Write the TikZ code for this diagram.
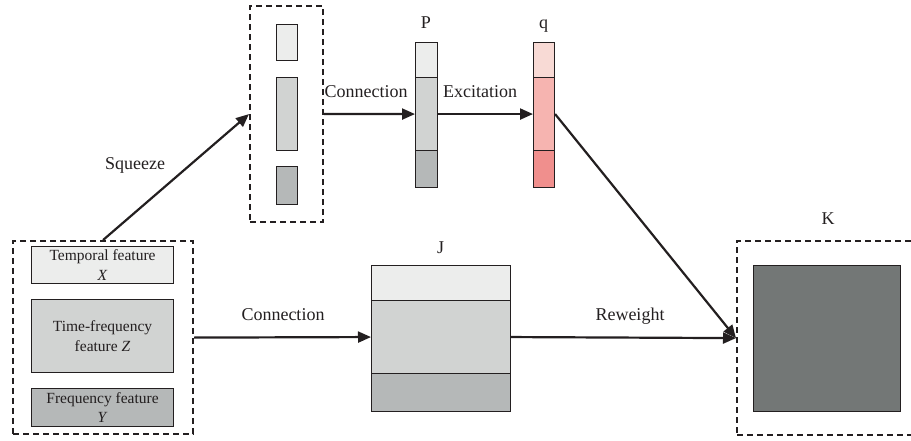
\documentclass[tikz,border=0pt]{standalone}
\usepackage{fontspec}
\setmainfont{Liberation Serif}
\usetikzlibrary{arrows.meta}
\definecolor{lg}{HTML}{ECEDEC}
\definecolor{mg}{HTML}{D1D3D2}
\definecolor{dg}{HTML}{B5B8B8}
\definecolor{pl}{HTML}{F8DAD5}
\definecolor{pm}{HTML}{F6B4B0}
\definecolor{pd}{HTML}{F08F8D}
\definecolor{kg}{HTML}{737776}
\definecolor{ink}{HTML}{231F20}
\begin{document}
\begin{tikzpicture}[x=1pt,y=-1pt,
  cell/.style={draw=ink,line width=1.1pt,inner sep=0pt,anchor=north west},
  dbox/.style={draw=ink,line width=2.2pt,dash pattern=on 6pt off 4pt,inner sep=0pt,anchor=north west},
  arr/.style={draw=ink,line width=2.2pt,-{Triangle[length=13pt,width=11pt]}},
  lab/.style={font=\fontsize{18}{21}\selectfont,text=ink,inner sep=0pt,anchor=base},
  flab/.style={font=\fontsize{15.5}{19.5}\selectfont,text=ink,align=center},
]
\useasboundingbox (0,0) rectangle (911,441);
% top dashed box with bars
\node[dbox,minimum width=73,minimum height=216] (tb) at (249,5) {};
\node[cell,fill=lg,minimum width=21,minimum height=36] (b1) at (276,24) {};
\node[cell,fill=mg,minimum width=21,minimum height=73] (b2) at (276,77) {};
\node[cell,fill=dg,minimum width=21,minimum height=38] (b3) at (276,166) {};
% P column
\node[cell,fill=lg,minimum width=22,minimum height=35] (p1) at (415,42) {};
\node[cell,fill=mg,minimum width=22,minimum height=73] (p2) at (415,77) {};
\node[cell,fill=dg,minimum width=22,minimum height=37] (p3) at (415,150) {};
\node[lab] (pl) at (426,29) {P};
% q column
\node[cell,fill=pl,minimum width=21,minimum height=35] (q1) at (533,42) {};
\node[cell,fill=pm,minimum width=21,minimum height=73] (q2) at (533,77) {};
\node[cell,fill=pd,minimum width=21,minimum height=37] (q3) at (533,150) {};
\node[lab] (ql) at (543.5,29) {q};
% lower-left dashed box
\node[dbox,minimum width=180,minimum height=193] (lb) at (12,240) {};
\node[cell,fill=lg,minimum width=142,minimum height=37,flab] (tx) at (31,246) {Temporal feature\\\textit{X}};
\node[cell,fill=mg,minimum width=142,minimum height=73,flab] (tz) at (31,299) {Time-frequency\\feature \textit{Z}};
\node[cell,fill=dg,minimum width=142,minimum height=38,flab] (ty) at (31,388) {Frequency feature\\\textit{Y}};
% J
\node[cell,fill=lg,minimum width=139,minimum height=35] (j1) at (371,265) {};
\node[cell,fill=mg,minimum width=139,minimum height=73] (j2) at (371,300) {};
\node[cell,fill=dg,minimum width=139,minimum height=38] (j3) at (371,373) {};
\node[lab] (jl) at (440.5,253) {J};
% K
\node[dbox,minimum width=190,minimum height=194] (kb) at (736,240) {};
\node[cell,fill=kg,minimum width=147,minimum height=146] (kin) at (753,265) {};
\node[lab] (kl) at (828,224) {K};
% connectors
\draw[arr] (lb.north) -- (tb.west);
\draw[arr] (tb.east) -- (p2.west);
\draw[arr] (p2.east) -- (q2.west);
\draw[arr] (q2.east) -- (kb.west);
\draw[arr] (lb.east) -- (j2.west);
\draw[arr] (j2.east) -- (kb.west);
% labels
\node[lab] (sq) at (135,170) {Squeeze};
\node[lab] (c1) at (366,98) {Connection};
\node[lab] (ex) at (480,98) {Excitation};
\node[lab] (c2) at (283,320) {Connection};
\node[lab] (rw) at (630,320) {Reweight};
\end{tikzpicture}
\end{document}
